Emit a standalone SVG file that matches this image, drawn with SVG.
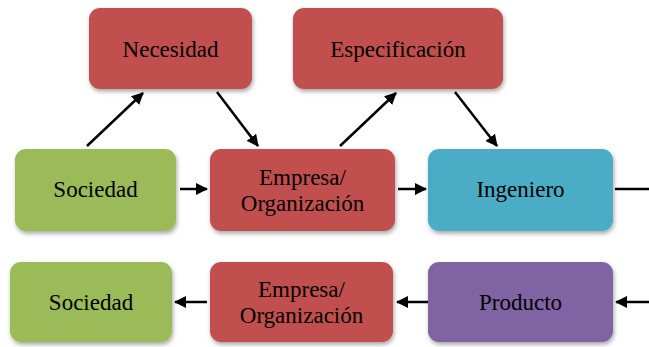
<svg xmlns="http://www.w3.org/2000/svg" width="649" height="347" viewBox="0 0 649 347">
<defs>
<filter id="sh" x="-10%" y="-10%" width="125%" height="130%">
<feDropShadow dx="1" dy="2.5" stdDeviation="2" flood-color="#000" flood-opacity="0.35"/>
</filter>
<marker id="ah" viewBox="0 0 12 12" refX="11" refY="6" markerWidth="12" markerHeight="12" markerUnits="userSpaceOnUse" orient="auto">
<path d="M0,0 L12,6 L0,12 Z" fill="#000"/>
</marker>
</defs>
<style>
.box{filter:url(#sh)}
.red{fill:#C0504D}
.green{fill:#9BBB59}
.blue{fill:#4BACC6}
.purple{fill:#8064A2}
.c line{stroke:#000;stroke-width:2.5}
</style>
<g font-family="Liberation Serif, Times New Roman, serif" font-size="23" fill="#000" text-anchor="middle">
<g id="necesidad"><rect class="box red" x="89" y="8" width="163" height="81" rx="11"/><text x="170.5" y="57">Necesidad</text></g>
<g id="especificacion"><rect class="box red" x="293" y="8" width="210" height="81" rx="11"/><text x="398" y="57">Especificación</text></g>
<g id="sociedad1"><rect class="box green" x="15" y="149" width="161" height="82" rx="11"/><text x="95.5" y="197">Sociedad</text></g>
<g id="empresa1"><rect class="box red" x="210" y="149" width="185" height="82" rx="11"/><text x="302.5" y="185">Empresa/</text><text x="302.5" y="211">Organización</text></g>
<g id="ingeniero"><rect class="box blue" x="428" y="149" width="185" height="82" rx="11"/><text x="520.5" y="197">Ingeniero</text></g>
<g id="sociedad2"><rect class="box green" x="10" y="262" width="162" height="80" rx="11"/><text x="91" y="310">Sociedad</text></g>
<g id="empresa2"><rect class="box red" x="210" y="262" width="183" height="80" rx="11"/><text x="301.5" y="297">Empresa/</text><text x="301.5" y="323">Organización</text></g>
<g id="producto"><rect class="box purple" x="428" y="262" width="185" height="80" rx="11"/><text x="520.5" y="310">Producto</text></g>
</g>
<g id="connectors" class="c">
<line x1="87" y1="146" x2="143" y2="93" marker-end="url(#ah)"/>
<line x1="217" y1="92" x2="258" y2="146" marker-end="url(#ah)"/>
<line x1="340" y1="146" x2="396" y2="93" marker-end="url(#ah)"/>
<line x1="455" y1="92" x2="497" y2="146" marker-end="url(#ah)"/>
<line x1="180" y1="189" x2="207" y2="189" marker-end="url(#ah)"/>
<line x1="398" y1="189" x2="426" y2="189" marker-end="url(#ah)"/>
<line x1="615" y1="189" x2="649" y2="189"/>
<line x1="649" y1="302" x2="616" y2="302" marker-end="url(#ah)"/>
<line x1="428" y1="302" x2="397" y2="302" marker-end="url(#ah)"/>
<line x1="207" y1="302" x2="175" y2="302" marker-end="url(#ah)"/>
</g>
</svg>
